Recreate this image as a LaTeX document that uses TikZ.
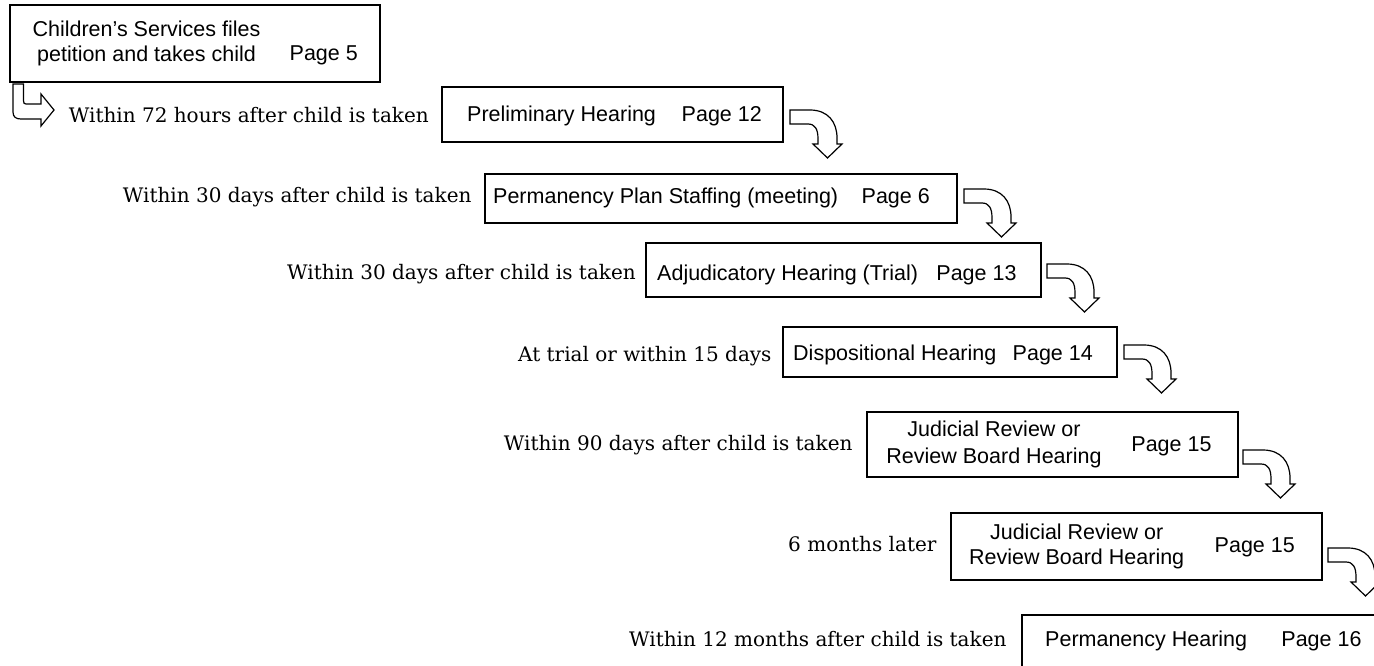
\documentclass[tikz,border=0pt]{standalone}
\usepackage{fontspec}
\newfontfamily\arialf{Liberation Sans}
\newfontfamily\seriff{DejaVu Serif}
\begin{document}
\begin{tikzpicture}[x=1pt,y=-1pt,
  box/.style={draw, line width=1.8pt, inner sep=0pt, outer sep=0pt, anchor=north west},
  sans/.style={font=\arialf\fontsize{21.5}{25}\selectfont, inner sep=0pt},
  serif/.style={font=\seriff\fontsize{20}{24}\selectfont, inner sep=0pt, anchor=base east},
  barrow/.style={draw, line width=1.2pt, fill=white, line join=miter},
  bent/.pic={
    \draw[barrow] (0,0) -- (20,0) .. controls (38,0) and (47,12) .. (47,28) -- (47,34) -- (52,34) -- (37.5,48) -- (23,34) -- (28,34) -- (28,29) .. controls (28,19) and (25,14) .. (18,14) -- (0,14) -- cycle;
  },
  lbent/.pic={
    \draw[barrow] (0,0) -- (0,28) .. controls (0,33) and (3,35) .. (8,35) -- (28,35) -- (28,42) -- (41,26) -- (28,10) -- (28,20) -- (13,20) .. controls (11.3,20) and (10.5,19) .. (10.5,17) -- (10.5,0) -- cycle;
  }]
\useasboundingbox (0,0) rectangle (1374,665);
\clip (0,0) rectangle (1374,665);
\fill[white] (0,0) rectangle (1374,665);

% boxes
\node[box, minimum width=370pt, minimum height=77pt] (b1) at (10,5) {};
\node[box, minimum width=341pt, minimum height=55pt] (b2) at (442,87) {};
\node[box, minimum width=472pt, minimum height=49pt] (b3) at (485,174) {};
\node[box, minimum width=395pt, minimum height=54pt] (b4) at (646,243) {};
\node[box, minimum width=334pt, minimum height=50pt] (b5) at (783,327) {};
\node[box, minimum width=371pt, minimum height=65pt] (b6) at (867,412) {};
\node[box, minimum width=371pt, minimum height=67pt] (b7) at (951,513) {};
\node[box, minimum width=420pt, minimum height=90pt] (b8) at (1022,615) {};

% box texts
\node[sans, anchor=base] (t1a) at (146.5,36) {Children’s Services files};
\node[sans, anchor=base] (t1b) at (146.5,61) {petition and takes child};
\node[sans, anchor=base east] (p1) at (358,60) {Page 5};

\node[sans, anchor=base west] (t2) at (467,121.7) {Preliminary Hearing};
\node[sans, anchor=base east] (p2) at (762,121.7) {Page 12};

\node[sans, anchor=base west] (t3) at (493,203.3) {Permanency Plan Staffing (meeting)};
\node[sans, anchor=base east] (p3) at (930,203.3) {Page 6};

\node[sans, anchor=base west] (t4) at (657,280.7) {Adjudicatory Hearing (Trial)};
\node[sans, anchor=base east] (p4) at (1016.7,280.7) {Page 13};

\node[sans, anchor=base west] (t5) at (793,360.7) {Dispositional Hearing};
\node[sans, anchor=base east] (p5) at (1093,360.7) {Page 14};

\node[sans, anchor=base] (t6a) at (994,436.7) {Judicial Review or};
\node[sans, anchor=base] (t6b) at (994,463.3) {Review Board Hearing};
\node[sans, anchor=base east] (p6) at (1211.7,451) {Page 15};

\node[sans, anchor=base] (t7a) at (1076.7,539) {Judicial Review or};
\node[sans, anchor=base] (t7b) at (1076.7,564.3) {Review Board Hearing};
\node[sans, anchor=base east] (p7) at (1295,552.3) {Page 15};

\node[sans, anchor=base west] (t8) at (1045,646.7) {Permanency Hearing};
\node[sans, anchor=base east] (p8) at (1361.7,646.7) {Page 16};

% left labels
\node[serif] (l1) at (429,122.7) {Within 72 hours after child is taken};
\node[serif] (l2) at (471.7,202.3) {Within 30 days after child is taken};
\node[serif] (l3) at (636,279.3) {Within 30 days after child is taken};
\node[serif] (l4) at (771.7,361.7) {At trial or within 15 days};
\node[serif] (l5) at (852.7,450) {Within 90 days after child is taken};
\node[serif] (l6) at (936.7,551.7) {6 months later};
\node[serif] (l7) at (1006.7,646) {Within 12 months after child is taken};

% arrows
\pic at ([shift={(3,2)}]b1.south west) {lbent};
\pic at ([shift={(7,-4.5)}]b2.east) {bent};
\pic at ([shift={(7,-9.5)}]b3.east) {bent};
\pic at ([shift={(6,-6)}]b4.east) {bent};
\pic at ([shift={(7,-7)}]b5.east) {bent};
\pic at ([shift={(5,5.5)}]b6.east) {bent};
\pic at ([shift={(6,1.5)}]b7.east) {bent};
\end{tikzpicture}
\end{document}
